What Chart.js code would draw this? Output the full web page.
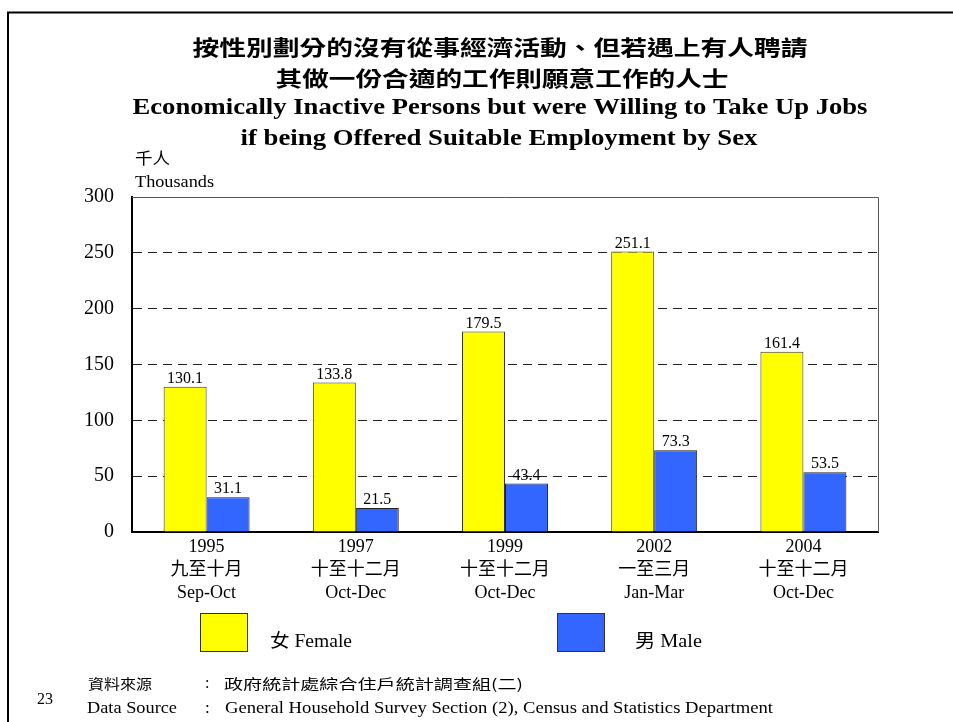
<!DOCTYPE html>
<html>
<head>
<meta charset="utf-8">
<script src="https://cdn.jsdelivr.net/npm/chart.js@4/dist/chart.umd.min.js"></script>
<style>
  html, body { margin: 0; padding: 0; background: #fff; }
  #wrap { width: 953px; height: 722px; position: relative; overflow: hidden; }
</style>
</head>
<body>
<div id="wrap"><canvas id="c" width="953" height="722"></canvas></div>
<script>
// ---- data ----
const years = ['1995', '1997', '1999', '2002', '2004'];
const periodsZh = ['九至十月', '十至十二月', '十至十二月', '一至三月', '十至十二月'];
const periodsEn = ['Sep-Oct', 'Oct-Dec', 'Oct-Dec', 'Jan-Mar', 'Oct-Dec'];
const femaleValues = [130.1, 133.8, 179.5, 251.1, 161.4];
const maleValues = [31.1, 21.5, 43.4, 73.3, 53.5];
const yTicks = [0, 50, 100, 150, 200, 250, 300];

const SERIF = "'Liberation Serif', 'Noto Sans CJK TC', serif";
const CJK = "'Noto Sans CJK TC', 'Liberation Serif', sans-serif";

Chart.defaults.font.family = SERIF;
Chart.defaults.color = '#000';

function fitText(ctx, text, x, y, font, width, align, baseline) {
  ctx.save();
  ctx.font = font;
  ctx.textAlign = align || 'left';
  ctx.textBaseline = baseline || 'alphabetic';
  const w = ctx.measureText(text).width;
  const sx = width ? width / w : 1;
  ctx.translate(x, y);
  ctx.scale(sx, 1);
  ctx.fillStyle = '#000';
  ctx.fillText(text, 0, 0);
  ctx.restore();
}

const decorPlugin = {
  id: 'decor',
  beforeDraw(chart) {
    const ctx = chart.ctx;
    ctx.save();
    ctx.fillStyle = '#fff';
    ctx.fillRect(0, 0, chart.width, chart.height);
    ctx.restore();
  },
  afterDatasetsDraw(chart) {
    const ctx = chart.ctx;
    chart.data.datasets.forEach((ds, di) => {
      const meta = chart.getDatasetMeta(di);
      meta.data.forEach((bar, i) => {
        ctx.save();
        ctx.font = '16px ' + SERIF;
        ctx.textAlign = 'center';
        ctx.textBaseline = 'alphabetic';
        ctx.fillStyle = '#000';
        ctx.fillText(ds.data[i].toFixed(1), bar.x, bar.y - 4);
        ctx.restore();
      });
    });
  },
  afterDraw(chart) {
    const ctx = chart.ctx;
    const a = chart.chartArea;
    // plot frame top/right
    ctx.save();
    ctx.strokeStyle = '#555';
    ctx.lineWidth = 1;
    ctx.beginPath();
    ctx.moveTo(a.left, a.top + 0.5);
    ctx.lineTo(a.right + 0.5, a.top + 0.5);
    ctx.lineTo(a.right + 0.5, a.bottom);
    ctx.stroke();
    ctx.restore();

    // page frame
    ctx.save();
    ctx.strokeStyle = '#000';
    ctx.lineWidth = 2;
    ctx.beginPath();
    ctx.moveTo(8, 740);
    ctx.lineTo(8, 12.5);
    ctx.lineTo(970, 12.5);
    ctx.stroke();
    ctx.restore();

    // titles
    fitText(ctx, '按性別劃分的沒有從事經濟活動、但若遇上有人聘請', 500, 47, 'bold 21px ' + CJK, 615, 'center', 'middle');
    fitText(ctx, '其做一份合適的工作則願意工作的人士', 502, 78, 'bold 21px ' + CJK, 453, 'center', 'middle');
    fitText(ctx, 'Economically Inactive Persons but were Willing to Take Up Jobs', 500, 114, 'bold 23px ' + SERIF, 735, 'center');
    fitText(ctx, 'if being Offered Suitable Employment by Sex', 499, 145, 'bold 23px ' + SERIF, 517, 'center');

    // unit
    fitText(ctx, '千人', 135, 158, '16px ' + CJK, 35, 'left', 'middle');
    fitText(ctx, 'Thousands', 135, 187, '16px ' + SERIF, 79, 'left');

    // legend from datasets
    const boxes = [200, 557];
    const textX = [270, 635];
    const textW = [82, 67];
    chart.data.datasets.forEach((ds, di) => {
      ctx.save();
      ctx.fillStyle = ds.backgroundColor;
      ctx.fillRect(boxes[di], 613, 47, 38);
      ctx.strokeStyle = '#333';
      ctx.lineWidth = 1;
      ctx.strokeRect(boxes[di] + 0.5, 613.5, 47, 38);
      ctx.restore();
      fitText(ctx, ds.label, textX[di], 647, '18px ' + SERIF, textW[di], 'left');
    });

    // footer
    fitText(ctx, '23', 37, 704, '17px ' + SERIF, 16, 'left');
    fitText(ctx, '資料來源', 88, 684, '14px ' + CJK, 64, 'left', 'middle');
    fitText(ctx, ':', 205, 684, '16px ' + SERIF, null, 'left', 'middle');
    fitText(ctx, '政府統計處綜合住戶統計調查組(二)', 224, 684, '14px ' + CJK, 299, 'left', 'middle');
    fitText(ctx, 'Data Source', 87, 713, '17px ' + SERIF, 90, 'left');
    fitText(ctx, ':', 205, 713, '17px ' + SERIF, null, 'left');
    fitText(ctx, 'General Household Survey Section (2), Census and Statistics Department', 225, 713, '17px ' + SERIF, 548, 'left');
  }
};

const labels = years.map((y, i) => [y, periodsZh[i], periodsEn[i]]);

new Chart(document.getElementById('c'), {
  type: 'bar',
  data: {
    labels: labels,
    datasets: [
      { label: '女 Female', data: femaleValues, backgroundColor: '#FFFF00', borderColor: '#333', borderWidth: 1,
        categoryPercentage: 0.576, barPercentage: 1.0 },
      { label: '男 Male', data: maleValues, backgroundColor: '#3366FF', borderColor: '#222', borderWidth: 1,
        categoryPercentage: 0.576, barPercentage: 1.0 }
    ]
  },
  options: {
    responsive: false,
    animation: false,
    devicePixelRatio: 1,
    layout: { padding: { left: 0, right: 75, top: 197, bottom: 0 } },
    plugins: {
      legend: { display: false },
      title: { display: false },
      tooltip: { enabled: false }
    },
    scales: {
      x: {
        grid: { display: false, drawTicks: false },
        border: { display: true, color: '#000', width: 2 },
        ticks: {
          font: { size: 18, family: SERIF, lineHeight: 1.28 },
          color: '#000',
          padding: 4,
          maxRotation: 0,
          autoSkip: false
        },
        afterFit(s) { s.height = 190; }
      },
      y: {
        min: 0,
        max: 300,
        afterBuildTicks(s) { s.ticks = yTicks.map(v => ({ value: v })); },
        grid: {
          color: (c) => (c.tick && c.tick.value === 0) ? 'rgba(0,0,0,0)' : '#222',
          lineWidth: 1,
          drawTicks: false
        },
        border: { display: true, color: '#000', width: 2, dash: [9, 6] },
        ticks: {
          font: { size: 20, family: SERIF },
          color: '#000',
          padding: 18
        },
        afterFit(s) { s.width = 132; }
      }
    }
  },
  plugins: [decorPlugin]
});
</script>
</body>
</html>
